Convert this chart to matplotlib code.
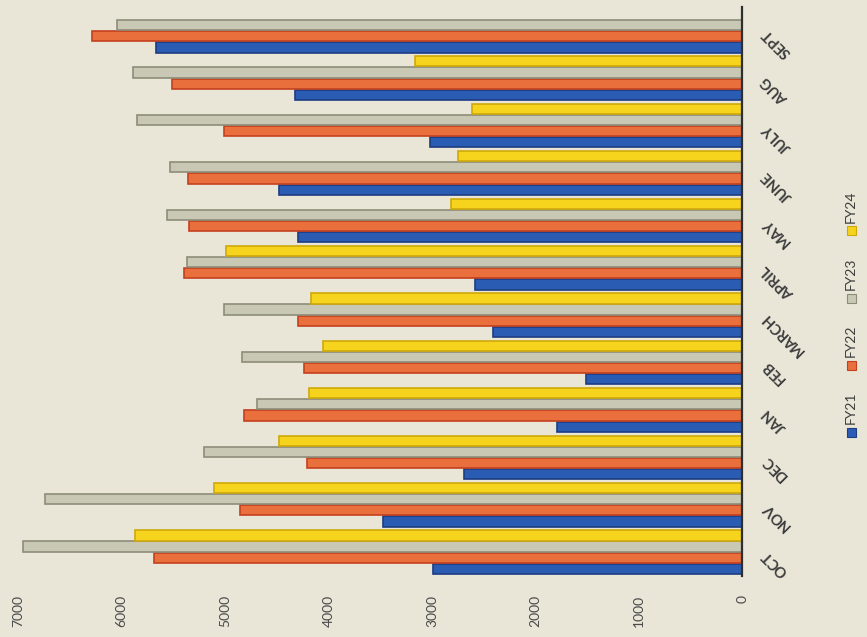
import numpy as np
import matplotlib
matplotlib.use("Agg")
import matplotlib.pyplot as plt
from matplotlib.patches import Rectangle

months = ["OCT", "NOV", "DEC", "JAN", "FEB", "MARCH", "APRIL",
          "MAY", "JUNE", "JULY", "AUG", "SEPT"]
fy21 = [2990, 3470, 2690, 1790, 1510, 2410, 2580, 4290, 4480, 3020, 4320, 5670]
fy22 = [5690, 4860, 4210, 4820, 4240, 4290, 5400, 5350, 5360, 5010, 5510, 6290]
fy23 = [6950, 6740, 5200, 4690, 4840, 5010, 5370, 5560, 5530, 5850, 5890, 6040]
fy24 = [5870, 5110, 4480, 4190, 4050, 4170, 4990, 2820, 2750, 2610, 3160, np.nan]

series = ["FY21", "FY22", "FY23", "FY24"]
fills = ["#2b5cb4", "#e96f3c", "#c9c8b4", "#f6d31c"]
edges = ["#1d3c82", "#c4401f", "#8c8c78", "#cfa90a"]
paper = "#e9e6d8"

plt.rcParams["font.family"] = ["Lato", "DejaVu Sans"]

fig = plt.figure(figsize=(8.67, 6.37), dpi=100, facecolor=paper)
ax = fig.add_axes([0.021, 0.096, 0.835, 0.893])
ax.set_facecolor(paper)

y = np.arange(len(months))
step = 0.235
for i, (vals, fc, ec) in enumerate(zip([fy21, fy22, fy23, fy24], fills, edges)):
    ax.barh(y + (i - 1.5) * step, vals, height=0.215, color=fc,
            edgecolor=ec, linewidth=1.2, label=series[i], zorder=2)

# value axis runs right-to-left, categories sit on the right
ax.set_xlim(7000, 0)
ax.set_ylim(-0.5, len(months) - 0.5)
ax.set_xticks(range(0, 7001, 1000))
ax.set_xticklabels([str(v) for v in range(0, 7001, 1000)], rotation=90,
                   fontsize=10, color="#4a4a4a")
ax.tick_params(axis="x", length=0, pad=14)

ax.yaxis.tick_right()
ax.set_yticks(y)
ax.set_yticklabels(months, rotation=135, rotation_mode="anchor",
                   ha="right", va="center", fontsize=10.5,
                   fontweight="bold", color="#3c3c3c")
ax.tick_params(axis="y", length=0, pad=16)

for side in ["top", "left", "bottom"]:
    ax.spines[side].set_visible(False)
ax.spines["right"].set_color("#2e2e2e")
ax.spines["right"].set_linewidth(1.6)

# legend, turned on its side along the right edge
lx = 851
ly0 = 432
for i, name in enumerate(series):
    yy = ly0 - i * 67
    fig.add_artist(Rectangle(((lx - 4.5) / 867, 1 - (yy + 4.5) / 637),
                             9 / 867, 9 / 637, transform=fig.transFigure,
                             facecolor=fills[i], edgecolor=edges[i], lw=0.8))
    fig.text(lx / 867, 1 - (yy - 8) / 637, name, rotation=90,
             ha="center", va="bottom", fontsize=10, color="#3c3c3c")

plt.savefig("out.png", dpi=100, facecolor=paper)
